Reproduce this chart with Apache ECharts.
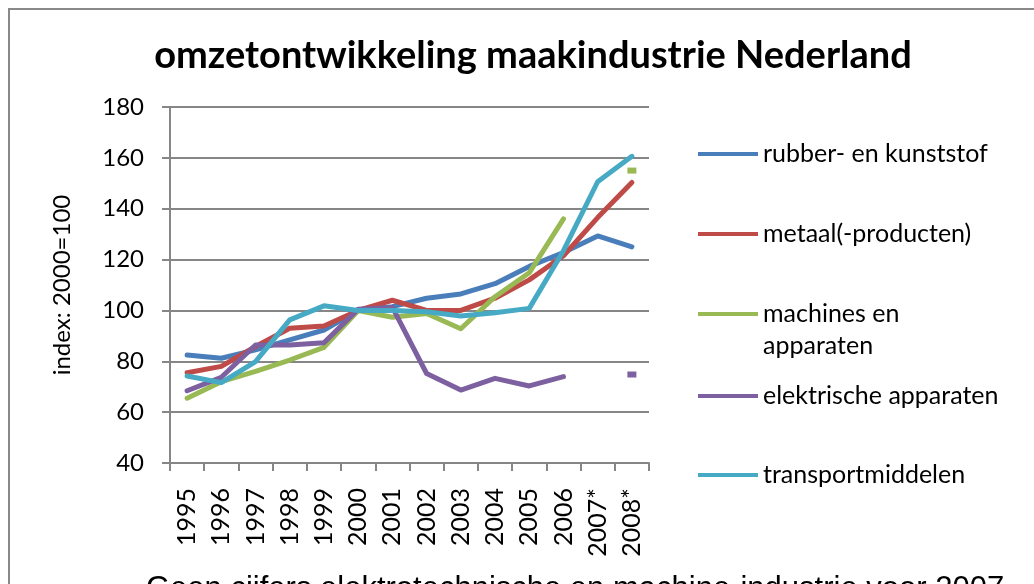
<!DOCTYPE html>
<html>
<head>
<meta charset="utf-8">
<script src="https://cdn.jsdelivr.net/npm/echarts@6/dist/echarts.min.js"></script>
<style>
  html, body { margin: 0; padding: 0; background: #fff; }
  #chart { width: 1034px; height: 584px; }
</style>
</head>
<body>
<div id="chart"></div>
<script>
  // categorieen en indexcijfers (2000 = 100)
  const years = ['1995', '1996', '1997', '1998', '1999', '2000', '2001', '2002', '2003', '2004', '2005', '2006', '2007*', '2008*']
  const rubber = [82.5, 81.2, 84.5, 88.4, 92.3, 100, 101.5, 104.8, 106.5, 110.5, 117.3, 122.8, 129.3, 125]
  const metaal = [75.5, 78, 85.8, 93, 93.9, 100, 104, 100, 100, 104.8, 112, 121.5, 136.5, 150.3]
  const machines = [65.5, 72, 76, 80.5, 85.5, 100, 97.3, 98.8, 92.8, 105.4, 114.8, 136, null, 155]
  const elektrisch = [68.4, 73.7, 86.4, 86.4, 87.3, 100.5, 101.2, 75.2, 68.7, 73.3, 70.3, 74, null, 74.8]
  const transport = [74.2, 71.6, 79.9, 96.3, 101.8, 100, 100, 99.5, 97.8, 99.1, 100.8, 123.5, 150.6, 160.6]

  const seriesNames = ['rubber- en kunststof', 'metaal(-producten)', 'machines en apparaten', 'elektrische apparaten', 'transportmiddelen']
  const seriesData = [rubber, metaal, machines, elektrisch, transport]
  const colors = ['#4a7ebb', '#be4b48', '#98b954', '#7d60a0', '#46aac5']
  const legendCenters = [154, 234, 314, 396, 475]

  const font = 'Lato, "Noto Sans", sans-serif'

  // losse punten (zonder buren) als klein blokje tonen
  function toItems(arr) {
    return arr.map((v, i) => {
      const prev = i > 0 ? arr[i - 1] : null
      const next = i < arr.length - 1 ? arr[i + 1] : null
      if (v != null && prev == null && next == null) {
        return { value: v, symbol: 'rect', symbolSize: [9, 6] }
      }
      return v
    })
  }

  const chart = echarts.init(document.getElementById('chart'))

  const legends = seriesNames.map((name, i) => ({
    data: [{ name: name, icon: 'rect' }],
    left: 698,
    top: legendCenters[i] - 15,
    padding: 0,
    itemWidth: 60,
    itemHeight: 4,
    selectedMode: false,
    // tweede regel van 'machines en apparaten' staat als losse tekst eronder
    formatter: name === 'machines en apparaten' ? 'machines en' : '{name}',
    textStyle: {
      fontFamily: font,
      fontSize: 25,
      color: '#000',
      lineHeight: 30
    }
  }))

  chart.setOption({
    animation: false,
    title: {
      text: 'omzetontwikkeling maakindustrie Nederland',
      left: 528,
      textAlign: 'center',
      top: 32,
      textStyle: {
        fontFamily: font,
        fontWeight: 'bold',
        fontSize: 38,
        color: '#000'
      }
    },
    legend: legends,
    grid: {
      left: 170,
      right: 385,
      top: 107,
      bottom: 121
    },
    xAxis: {
      type: 'category',
      data: years,
      boundaryGap: true,
      axisLine: { lineStyle: { color: '#868686', width: 2 } },
      axisTick: { show: true, length: 8, inside: false, lineStyle: { color: '#868686', width: 2 } },
      axisLabel: {
        rotate: 90,
        margin: 25,
        interval: 0,
        fontFamily: font,
        fontSize: 25,
        color: '#000'
      },
      splitLine: { show: false }
    },
    yAxis: {
      type: 'value',
      min: 40,
      max: 180,
      interval: 20,
      name: 'index: 2000=100',
      nameLocation: 'middle',
      nameGap: 96,
      nameTextStyle: {
        fontFamily: font,
        fontSize: 24,
        color: '#000'
      },
      axisLine: { show: true, lineStyle: { color: '#868686', width: 2 } },
      axisTick: { show: true, length: 8, lineStyle: { color: '#868686', width: 2 } },
      axisLabel: {
        margin: 26,
        fontFamily: font,
        fontSize: 24,
        color: '#000'
      },
      splitLine: { show: true, lineStyle: { color: '#868686', width: 2 } }
    },
    series: seriesNames.map((name, i) => ({
      name: name,
      type: 'line',
      data: toItems(seriesData[i]),
      symbol: 'none',
      showSymbol: true,
      connectNulls: false,
      color: colors[i],
      lineStyle: { width: 5, color: colors[i], cap: 'round', join: 'round' },
      itemStyle: { color: colors[i] }
    })),
    graphic: [
      {
        type: 'rect',
        shape: { x: 9, y: 9, width: 1040, height: 600 },
        style: { fill: 'none', stroke: '#898989', lineWidth: 2 },
        silent: true
      },
      {
        type: 'text',
        left: 763,
        top: legendCenters[2] + 19,
        style: {
          text: 'apparaten',
          font: '25px Lato, "Noto Sans", sans-serif',
          fill: '#000'
        },
        silent: true
      },
      {
        type: 'text',
        left: 146,
        top: 574,
        style: {
          text: 'Geen cijfers elektrotechnische en machine-industrie voor 2007',
          font: '31px "Liberation Sans", Arial, sans-serif',
          fill: '#000'
        },
        silent: true
      }
    ]
  })
</script>
</body>
</html>
